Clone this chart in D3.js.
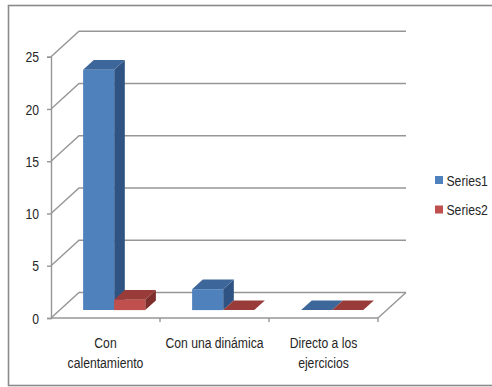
<!DOCTYPE html>
<html>
<head>
<meta charset="utf-8">
<script src="https://cdn.jsdelivr.net/npm/d3@7"></script>
<style>
  html, body { margin: 0; padding: 0; background: #fff; }
  svg { display: block; }
  text { font-family: "Liberation Sans", Arial, sans-serif; fill: #262626; }
</style>
</head>
<body>
<svg id="chart" width="492" height="387"></svg>
<script>
// Chart data
const categories = [["Con", "calentamiento"], ["Con una dinámica"], ["Directo a los", "ejercicios"]];
const seriesNames = ["Series1", "Series2"];
const series1 = [23, 2, 0];
const series2 = [1, 0, 0];
const yTicks = [0, 5, 10, 15, 20, 25];

const seriesValues = [series1, series2];
const palette = [
  { front: "#4F81BD", top: "#3D679A", side: "#2F5382" },
  { front: "#C0504D", top: "#983B39", side: "#7E2F2D" }
];

const svg = d3.select("#chart");

// Plot frame (front plane) and oblique depth vector
const plot = { left: 51, right: 378, top: 56.7, bottom: 318 };
const depth = { dx: 28, dy: -25.5 };
const shift = (p, t) => [p[0] + depth.dx * t, p[1] + depth.dy * t];

const y = d3.scaleLinear().domain([0, 25]).range([plot.bottom, plot.top]);
const x0 = d3.scaleBand().domain(d3.range(categories.length))
  .range([plot.left, plot.right]).paddingInner(0.43).paddingOuter(0.215);
const x1 = d3.scaleBand().domain(d3.range(seriesNames.length))
  .range([0, x0.bandwidth()]);
const step = x0.step();
const catStart = i => plot.left + i * step;

// Outer chart border
svg.append("rect")
  .attr("x", 8.5).attr("y", 5.5).attr("width", 500).attr("height", 380)
  .attr("fill", "none").attr("stroke", "#8a8a8a").attr("stroke-width", 1.6);

const gridColor = "#969696";
const grid = svg.append("g").attr("stroke", gridColor).attr("stroke-width", 1.4).attr("fill", "none");

// Side-wall diagonals and back-wall gridlines
yTicks.forEach(v => {
  const a = [plot.left, y(v)];
  const b = shift(a, 1);
  const c = shift([plot.right, y(v)], 1);
  grid.append("path").attr("d", d3.line()([a, b, c]));
});
// Floor right edge and front floor edge
grid.append("path").attr("d", d3.line()([[plot.right, plot.bottom], shift([plot.right, plot.bottom], 1)]));
grid.append("path").attr("d", d3.line()([[plot.left, plot.bottom], [plot.right, plot.bottom]]));

// Value axis
const yAxis = svg.append("g")
  .attr("transform", `translate(${plot.left},0)`)
  .call(d3.axisLeft(y).tickValues(yTicks).tickSize(4).tickPadding(8).tickFormat(d3.format("d")));
yAxis.select(".domain").attr("stroke", gridColor).attr("stroke-width", 1.4);
yAxis.selectAll(".tick line").attr("stroke", gridColor).attr("stroke-width", 1.4);
yAxis.selectAll(".tick text")
  .attr("font-size", 14).attr("fill", "#262626")
  .attr("dy", "0.36em")
  .each(function () {
    const t = d3.select(this);
    const xPos = +t.attr("x");
    t.attr("x", null).attr("transform", `translate(${xPos},0) scale(0.87,1)`);
  });

// Category tick marks at boundaries
const catTicks = svg.append("g").attr("stroke", gridColor).attr("stroke-width", 1.4);
d3.range(1, categories.length + 1).forEach(i => {
  const xv = catStart(i);
  catTicks.append("line").attr("x1", xv).attr("x2", xv).attr("y1", plot.bottom).attr("y2", plot.bottom + 4);
});

// Category labels
categories.forEach((lines, i) => {
  const cx = x0(i) + x0.bandwidth() / 2;
  lines.forEach((ln, j) => {
    svg.append("text")
      .attr("transform", `translate(${cx},${348.3 + j * 19.5}) scale(0.87,1)`)
      .attr("text-anchor", "middle")
      .attr("font-size", 14)
      .text(ln);
  });
});

// 3D columns
const t0 = 0.31, t1 = 0.69;
const bars = svg.append("g");
categories.forEach((_, i) => {
  seriesNames.forEach((_, s) => {
    const v = seriesValues[s][i];
    const xl = x0(i) + x1(s);
    const xr = xl + x1.bandwidth();
    const yt = y(v), yb = y(0);
    const col = palette[s];
    const FL = shift([xl, yt], t0), FR = shift([xr, yt], t0);
    const BL = shift([xl, yt], t1), BR = shift([xr, yt], t1);
    const FRb = shift([xr, yb], t0), BRb = shift([xr, yb], t1);
    const FLb = shift([xl, yb], t0);
    const poly = pts => d3.line()(pts) + "Z";
    if (v > 0) {
      bars.append("path").attr("d", poly([FR, BR, BRb, FRb])).attr("fill", col.side);
    }
    bars.append("path").attr("d", poly([FL, BL, BR, FR])).attr("fill", col.top);
    if (v > 0) {
      bars.append("path").attr("d", poly([FL, FR, FRb, FLb])).attr("fill", col.front);
    }
  });
});

// Legend
const legend = svg.append("g");
seriesNames.forEach((name, s) => {
  const cy = 180 + s * 29.5;
  legend.append("rect")
    .attr("x", 435).attr("y", cy - 4).attr("width", 8).attr("height", 8)
    .attr("fill", palette[s].front);
  legend.append("text")
    .attr("transform", `translate(446.5,${cy + 5.5}) scale(0.87,1)`)
    .attr("font-size", 14)
    .text(name);
});
</script>
</body>
</html>
